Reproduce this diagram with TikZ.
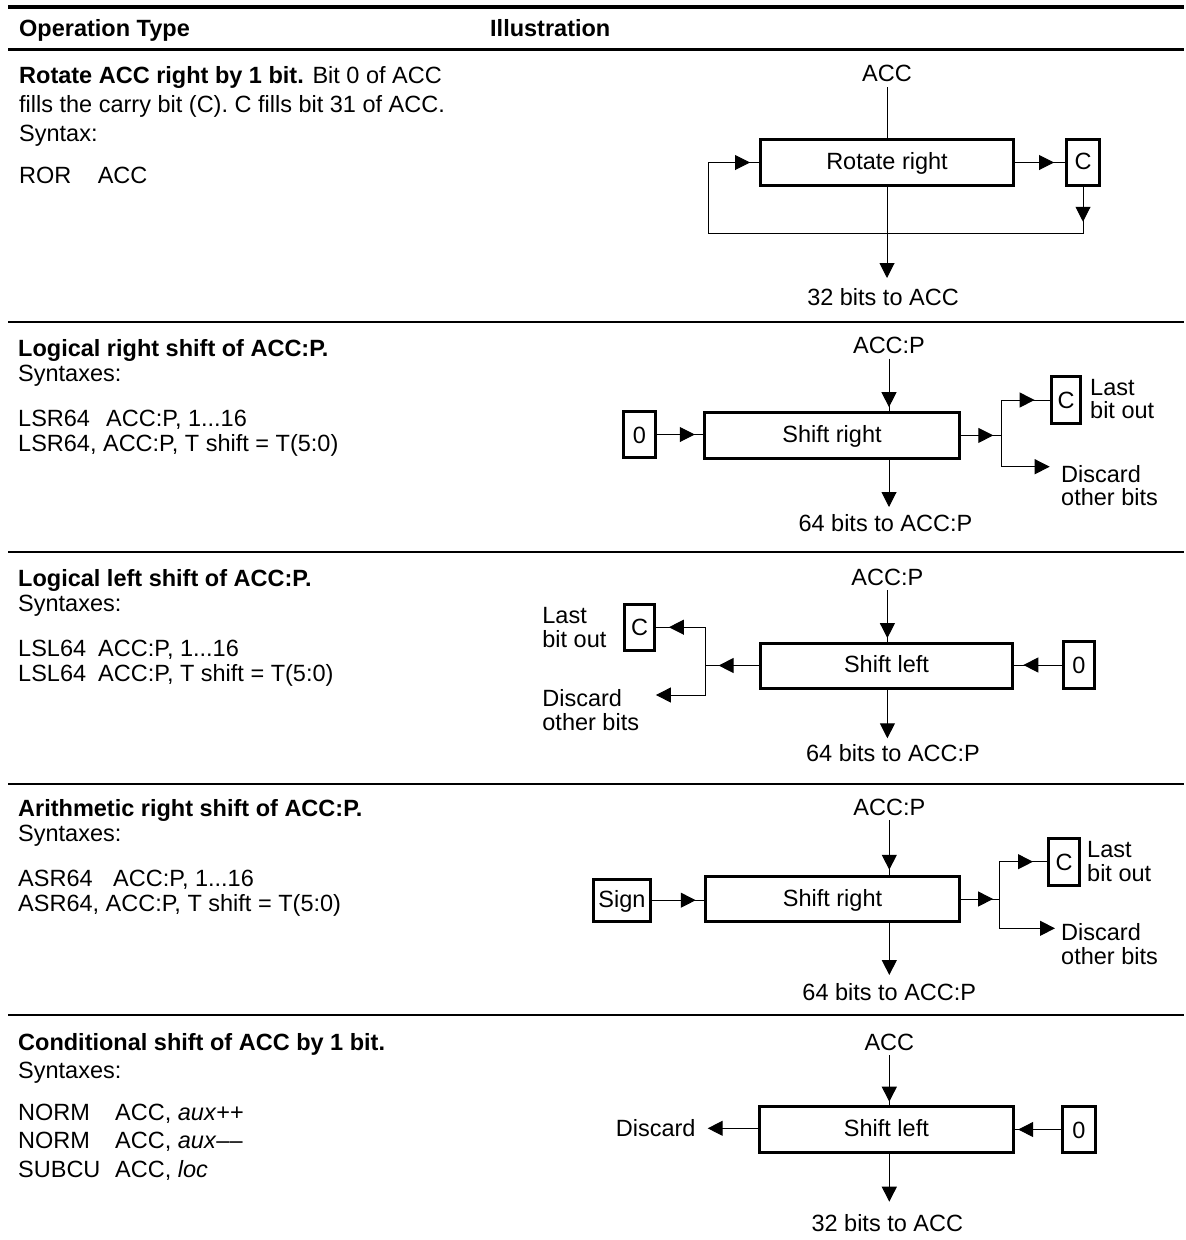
\documentclass[tikz,border=0pt]{standalone}
\usepackage{fontspec}
\setmainfont{Liberation Sans}
\usetikzlibrary{arrows.meta,decorations.markings}
\tikzset{
  tri/.tip={Triangle[length=15pt,width=15pt]},
  txt/.style={inner sep=0pt, text height=17pt, text depth=0pt, font=\fontsize{23.5}{28}\selectfont},
  lt/.style={txt, anchor=west},
  rt/.style={txt, anchor=east},
  regbox/.style={draw, line width=3pt, inner sep=0pt},
  conn/.style={line width=1pt},
  tipend/.style={conn, -tri},
  midarr/.style={conn, postaction={decorate}, decoration={markings, mark=at position #1 with {\arrow{tri}}}},
  loopar/.style 2 args={conn, postaction={decorate}, decoration={markings, mark=at position #1 with {\arrow{tri}}, mark=at position #2 with {\arrow{tri}}}},
  toprule/.style={line width=4pt},
  midrule/.style={line width=2.5pt},
  seprule/.style={line width=2pt},
}
\begin{document}
\begin{tikzpicture}[x=1pt,y=-1pt]
\useasboundingbox (0,0) rectangle (1186,1240);

% ---------- rules ----------
\draw[toprule] (8,7) -- (1184,7);
\draw[midrule] (8,49.5) -- (1184,49.5);
\draw[seprule] (8,321.5) -- (1184,321.5);
\draw[seprule] (8,551.5) -- (1184,551.5);
\draw[seprule] (8,783.5) -- (1184,783.5);
\draw[seprule] (8,1014.5) -- (1184,1014.5);

% ---------- header ----------
\node[lt] (hop) at (19,28.3) {\textbf{Operation Type}};
\node[lt] (hil) at (490,28.3) {\textbf{Illustration}};

% ---------- row 1 text ----------
\node[lt] (r1a) at (19,75) {\textbf{Rotate ACC right by 1 bit.} Bit 0 of ACC};
\node[lt] (r1b) at (19,104) {fills the carry bit (C). C fills bit 31 of ACC.};
\node[lt] (r1c) at (19,133) {Syntax:};
\node[lt] (r1d) at (19,175) {ROR};
\node[lt] (r1e) at (97.6,175) {ACC};

% ---------- row 1 diagram ----------
\node[txt] (acc1) at (887,73.3) {ACC};
\node[regbox, minimum width=253pt, minimum height=45.5pt] (rot) at (887,162.5) {};
\node[txt] (rott) at (887,161) {Rotate right};
\node[regbox, minimum width=33pt, minimum height=45.5pt] (c1) at (1083,162.5) {};
\node[txt] (c1t) at (1083,161) {C};
\draw[conn, shorten <=5pt] (acc1.south) -- (rot.north);
\draw[midarr=-11pt] (rot.east) -- (c1.west);
\coordinate (l1a) at (1083,233);
\coordinate (l1b) at (708,233);
\draw[loopar={35pt}{-9pt}] (c1.south) -- (l1a) -- (l1b) -- (l1b |- rot.west) -- (rot.west);
\coordinate (o1t) at (887,278);
\draw[tipend] (rot.south) -- (o1t);
\node[txt] (o1) at (883,296.7) {32 bits to ACC};

% ---------- row 2 text ----------
\node[lt] (r2a) at (18,348) {\textbf{Logical right shift of ACC:P.}};
\node[lt] (r2b) at (18,373) {Syntaxes:};
\node[lt] (r2c) at (18,418) {LSR64};
\node[lt] (r2d) at (106,418) {ACC:P, 1...16};
\node[lt] (r2e) at (18,443) {LSR64, ACC:P, T shift = T(5:0)};

% ---------- row 2 diagram ----------
\node[txt] (acc2) at (889,345) {ACC:P};
\node[regbox, minimum width=254.5pt, minimum height=45.5pt] (sr2) at (832,435.4) {};
\node[txt] (sr2t) at (832,433.5) {Shift right};
\node[regbox, minimum width=32.6pt, minimum height=45.5pt] (z2) at (639.5,434.5) {};
\node[txt] (z2t) at (639.5,434.5) {0};
\node[regbox, minimum width=29.8pt, minimum height=47pt] (c2) at (1066,400) {};
\node[txt] (c2t) at (1066,400) {C};
\draw[midarr=-4pt, shorten <=5pt] (acc2.south) -- (acc2.south |- sr2.north);
\draw[midarr=-8.5pt] (z2.east) -- (z2.east -| sr2.west);
\coordinate (b2) at (1001.3,435.4);
\coordinate (b2t) at (1001.3,400);
\coordinate (b2b) at (1001.3,466.7);
\coordinate (d2t) at (1049.7,466.7);
\draw[midarr=-8pt] (sr2.east) -- (b2);
\draw[conn] (b2t) -- (b2b);
\draw[midarr=-15pt] (b2t) -- (c2.west);
\draw[tipend] (b2b) -- (d2t);
\node[lt] (l2a) at (1090,387) {Last};
\node[lt] (l2b) at (1090,410) {bit out};
\node[lt] (d2a) at (1061,474) {Discard};
\node[lt] (d2b) at (1061,497) {other bits};
\coordinate (o2t) at (889,507);
\draw[tipend] (acc2.south |- sr2.south) -- (o2t);
\node[txt] (o2) at (885.4,523) {64 bits to ACC:P};

% ---------- row 3 text ----------
\node[lt] (r3a) at (18,578) {\textbf{Logical left shift of ACC:P.}};
\node[lt] (r3b) at (18,603) {Syntaxes:};
\node[lt] (r3c) at (18,648) {LSL64};
\node[lt] (r3d) at (98,648) {ACC:P, 1...16};
\node[lt] (r3e) at (18,673) {LSL64};
\node[lt] (r3f) at (98,673) {ACC:P, T shift = T(5:0)};

% ---------- row 3 diagram ----------
\node[txt] (acc3) at (887.4,576.7) {ACC:P};
\node[regbox, minimum width=251.5pt, minimum height=45pt] (sl3) at (886.5,665.5) {};
\node[txt] (sl3t) at (886.5,664) {Shift left};
\node[regbox, minimum width=31.5pt, minimum height=47pt] (z3) at (1078.8,665) {};
\node[txt] (z3t) at (1078.8,665) {0};
\node[regbox, minimum width=29.6pt, minimum height=46pt] (c3) at (639.6,627.2) {};
\node[txt] (c3t) at (639.6,627.2) {C};
\draw[midarr=-3.4pt, shorten <=5pt] (acc3.south) -- (acc3.south |- sl3.north);
\draw[midarr=-9.6pt] (z3.west) -- (z3.west -| sl3.east);
\coordinate (b3) at (705.6,665.5);
\coordinate (b3t) at (705.6,627.2);
\coordinate (b3b) at (705.6,695);
\coordinate (d3t) at (655.9,695);
\draw[midarr=-13pt] (sl3.west) -- (b3);
\draw[conn] (b3t) -- (b3b);
\draw[midarr=-13pt] (b3t) -- (c3.east);
\draw[tipend] (b3b) -- (d3t);
\node[lt] (l3a) at (542.2,615) {Last};
\node[lt] (l3b) at (542.2,639) {bit out};
\node[lt] (d3a) at (542.2,698.3) {Discard};
\node[lt] (d3b) at (542.2,721.7) {other bits};
\coordinate (o3t) at (887.4,738.3);
\draw[tipend] (acc3.south |- sl3.south) -- (o3t);
\node[txt] (o3) at (893,753.3) {64 bits to ACC:P};

% ---------- row 4 text ----------
\node[lt] (r4a) at (18,808) {\textbf{Arithmetic right shift of ACC:P.}};
\node[lt] (r4b) at (18,833) {Syntaxes:};
\node[lt] (r4c) at (18,878) {ASR64};
\node[lt] (r4d) at (113,878) {ACC:P, 1...16};
\node[lt] (r4e) at (18,903) {ASR64, ACC:P, T shift = T(5:0)};

% ---------- row 4 diagram ----------
\node[txt] (acc4) at (889.3,806.7) {ACC:P};
\node[regbox, minimum width=254.5pt, minimum height=45.5pt] (sr4) at (832.5,899) {};
\node[txt] (sr4t) at (832.5,897.5) {Shift right};
\node[regbox, minimum width=56.9pt, minimum height=42pt] (sg4) at (621.9,900.2) {};
\node[txt] (sg4t) at (621.9,898.5) {Sign};
\node[regbox, minimum width=31pt, minimum height=47pt] (c4) at (1064,861.7) {};
\node[txt] (c4t) at (1064,861.7) {C};
\draw[midarr=-5pt, shorten <=5pt] (acc4.south) -- (acc4.south |- sr4.north);
\draw[midarr=-8pt] (sg4.east) -- (sg4.east -| sr4.west);
\coordinate (b4) at (999.1,899);
\coordinate (b4t) at (999.1,861.7);
\coordinate (b4b) at (999.1,928.3);
\coordinate (d4t) at (1055,928.3);
\draw[midarr=-6pt] (sr4.east) -- (b4);
\draw[conn] (b4t) -- (b4b);
\draw[midarr=-14pt] (b4t) -- (c4.west);
\draw[tipend] (b4b) -- (d4t);
\node[lt] (l4a) at (1087,849) {Last};
\node[lt] (l4b) at (1087,873) {bit out};
\node[lt] (d4a) at (1061,932) {Discard};
\node[lt] (d4b) at (1061,956) {other bits};
\coordinate (o4t) at (889.3,975);
\draw[tipend] (acc4.south |- sr4.south) -- (o4t);
\node[txt] (o4) at (889.3,991.7) {64 bits to ACC:P};

% ---------- row 5 text ----------
\node[lt] (r5a) at (18,1041.7) {\textbf{Conditional shift of ACC by 1 bit.}};
\node[lt] (r5b) at (18,1070) {Syntaxes:};
\node[lt] (r5c) at (18,1111.7) {NORM};
\node[lt] (r5d) at (115,1111.7) {ACC, \textit{aux}++};
\node[lt] (r5e) at (18,1140) {NORM};
\node[lt] (r5f) at (115,1140) {ACC, \textit{aux}––};
\node[lt] (r5g) at (18,1169) {SUBCU};
\node[lt] (r5h) at (115,1169) {ACC, \textit{loc}};

% ---------- row 5 diagram ----------
\node[txt] (acc5) at (889.3,1041.7) {ACC};
\node[regbox, minimum width=254.5pt, minimum height=46pt] (sl5) at (886.4,1129.5) {};
\node[txt] (sl5t) at (886.4,1128) {Shift left};
\node[regbox, minimum width=33pt, minimum height=46pt] (z5) at (1079,1129.5) {};
\node[txt] (z5t) at (1079,1129.5) {0};
\draw[midarr=-3.3pt, shorten <=5pt] (acc5.south) -- (acc5.south |- sl5.north);
\draw[midarr=-3pt] (z5.west) -- (z5.west -| sl5.east);
\node[rt] (dis5) at (695.7,1128.3) {Discard};
\coordinate (d5t) at (707.7,1128.3);
\draw[tipend] (sl5.west |- d5t) -- (d5t);
\coordinate (o5t) at (889.3,1201.7);
\draw[tipend] (acc5.south |- sl5.south) -- (o5t);
\node[txt] (o5) at (887.3,1223.3) {32 bits to ACC};
\end{tikzpicture}
\end{document}
